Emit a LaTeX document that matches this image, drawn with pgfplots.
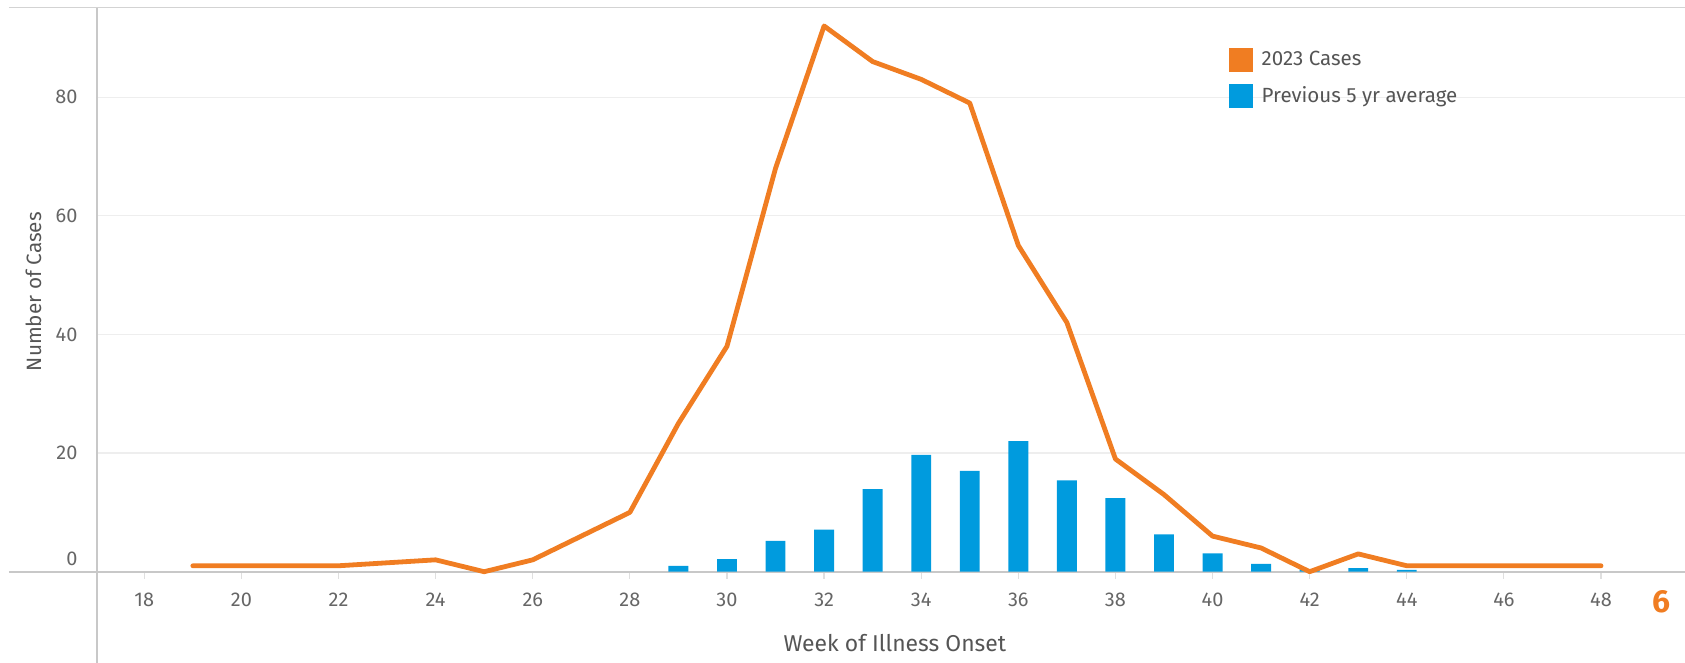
\documentclass[border=0pt]{standalone}
\usepackage{fontspec}
\setmainfont{Fira Sans}
\usepackage{pgfplots}
\pgfplotsset{compat=1.18}

\definecolor{caseorange}{RGB}{240,125,34}
\definecolor{avgblue}{RGB}{0,155,222}
\definecolor{ticktext}{RGB}{102,102,102}
\definecolor{titletext}{RGB}{85,85,85}
\definecolor{axisgray}{RGB}{200,200,200}
\definecolor{gridgray}{RGB}{238,238,238}

\begin{document}
\begin{tikzpicture}
\begin{axis}[
    at={(0,0)}, anchor=south west,
    scale only axis,
    width=794.15bp, height=282.05bp,
    xmin=17.02, xmax=49.73,
    ymin=0, ymax=95.1,
    clip=false,
    axis x line*=bottom, axis y line*=left,
    axis line style={draw=none},
    xtick={18,20,...,48},
    ytick={20,40,60,80},
    extra y ticks={0},
    extra y tick style={yticklabel style={yshift=6.6bp}},
    tick align=outside,
    major tick length=3.5bp,
    x tick style={draw=gray!25, line width=0.6bp},
    y tick style={draw=none},
    ymajorgrids,
    grid style={draw=gridgray, line width=0.6bp},
    tick label style={font=\fontsize{10}{12}\selectfont, text=ticktext},
    /pgf/number format/assume math mode=true,
    xticklabel style={yshift=-3.8bp},
    yticklabel style={xshift=-2.6bp},
    xlabel={Week of Illness Onset},
    ylabel={Number of Cases},
    every axis x label/.style={at={(axis description cs:0.5,0)}, anchor=center,
        yshift=-35.65bp, xshift=2bp, font=\fontsize{11.5}{13}\selectfont, text=titletext},
    every axis y label/.style={at={(axis description cs:0,0.5)}, rotate=90, anchor=center,
        yshift=31.6bp, xshift=-1bp, font=\fontsize{10.4}{12}\selectfont, text=titletext},
    legend style={at={(axis description cs:0.7127,0.9307)}, anchor=north west,
        draw=none, fill=none, inner sep=0pt, row sep=5bp, column sep=2.5bp,
        font=\fontsize{10.3}{12}\selectfont, text=titletext},
    legend cell align=left,
    reverse legend,
]
% axis frame lines, Tableau style (drawn first so the data sit on top)
\draw[axisgray, line width=0.9bp] ([xshift=-43.85bp]rel axis cs:0,0) -- (rel axis cs:1,0);
\draw[axisgray, line width=0.9bp] ([yshift=-45.65bp]rel axis cs:0,0) -- (rel axis cs:0,1);
\draw[axisgray!80, line width=0.9bp] ([xshift=-43.85bp]rel axis cs:0,1) -- (rel axis cs:1,1);

% previous 5 yr average
\addplot[ybar, bar width=0.41, fill=avgblue, draw=none,
    legend image code/.code={\path[draw=none, fill=avgblue] (0bp,-5.9bp) rectangle (11.8bp,5.9bp);}]
coordinates {
    (29,1.0) (30,2.1) (31,5.2) (32,7.1) (33,13.9) (34,19.7) (35,17.0) (36,22.0)
    (37,15.4) (38,12.4) (39,6.3) (40,3.1) (41,1.3) (42,0.4) (43,0.6) (44,0.3)
};
\addlegendentry{Previous 5 yr average}

% 2023 cases
\addplot[caseorange, line width=2.4bp, line join=round, line cap=round,
    legend image code/.code={\path[draw=none, fill=caseorange] (0bp,-5.9bp) rectangle (11.8bp,5.9bp);}]
coordinates {
    (19,1) (20,1) (21,1) (22,1) (24,2) (25,0) (26,2) (27,6) (28,10)
    (29,25) (30,38) (31,68) (32,92) (33,86) (34,83) (35,79) (36,55)
    (37,42) (38,19) (39,13) (40,6) (41,4) (42,0) (43,3) (44,1)
    (45,1) (46,1) (47,1) (48,1)
};
\addlegendentry{2023 Cases}
\end{axis}
\pgfresetboundingbox
\path[use as bounding box] (-48.35bp,-45.65bp) rectangle (794.15bp,285.85bp);
\node[font=\bfseries\fontsize{16}{18}\selectfont, text=caseorange] at (782.5bp,-15bp) {6};
\end{tikzpicture}
\end{document}
